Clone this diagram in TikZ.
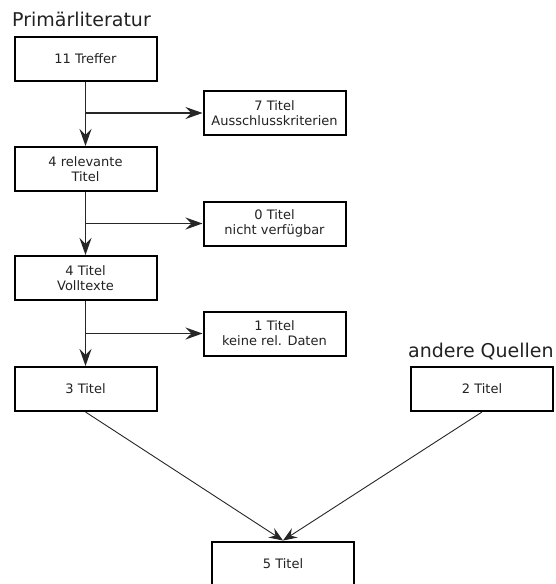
\documentclass[tikz,border=0pt]{standalone}
\usepackage{fontspec}
\setmainfont{DejaVu Sans}
\usetikzlibrary{arrows.meta}
\definecolor{txt}{HTML}{222222}
\tikzset{
  stage/.style={draw=black, line width=2pt, fill=white, minimum width=142pt,
    minimum height=44pt, inner sep=0pt, align=center, text=txt,
    font=\fontsize{13}{15}\selectfont},
  flow/.style={line width=1.1pt, draw=black!85,
    -{Stealth[length=17pt, width=12pt, inset=6pt]}},
  merge/.style={line width=0.9pt, draw=black!85,
    -{Stealth[length=14pt, width=11pt, inset=5pt]}},
  heading/.style={anchor=base west, inner sep=0pt, text=txt,
    font=\fontsize{19}{22}\selectfont}
}
\begin{document}
\begin{tikzpicture}[x=1pt, y=-1pt]
  \useasboundingbox (0,0) rectangle (555,584);
  \clip (0,0) rectangle (555,584);

  % column headings
  \node[heading] (hPrim) at (12,26) {Primärliteratur};
  \node[heading] (hAnd) at (408,357) {andere Quellen};

  % main column
  \node[stage] (treffer)   at (85.5,59)  {11 Treffer};
  \node[stage] (relevant)  at (85.5,169) {4 relevante\\Titel};
  \node[stage] (voll)      at (85.5,278) {4 Titel\\Volltexte};
  \node[stage] (drei)      at (85.5,389) {3 Titel};

  % excluded records
  \node[stage] (aus)   at (274.5,113) {7 Titel\\Ausschlusskriterien};
  \node[stage] (nicht) at (274.5,223.5) {0 Titel\\nicht verfügbar};
  \node[stage] (keine) at (274.5,333.5) {1 Titel\\keine rel. Daten};

  % other sources and result
  \node[stage] (zwei) at (482,389) {2 Titel};
  \node[stage] (fuenf) at (283,563.5) {5 Titel};

  % vertical flow
  \draw[flow] (treffer.south) -- (relevant.north);
  \draw[flow] (relevant.south) -- (voll.north);
  \draw[flow] (voll.south) -- (drei.north);

  % branches to excluded records
  \draw[flow] (treffer.south |- aus.west) -- (aus.west);
  \draw[flow] (relevant.south |- nicht.west) -- (nicht.west);
  \draw[flow] (voll.south |- keine.west) -- (keine.west);

  % merge
  \draw[merge] (drei.south) -- (fuenf.north);
  \draw[merge] (zwei.south) -- (fuenf.north);
\end{tikzpicture}
\end{document}
